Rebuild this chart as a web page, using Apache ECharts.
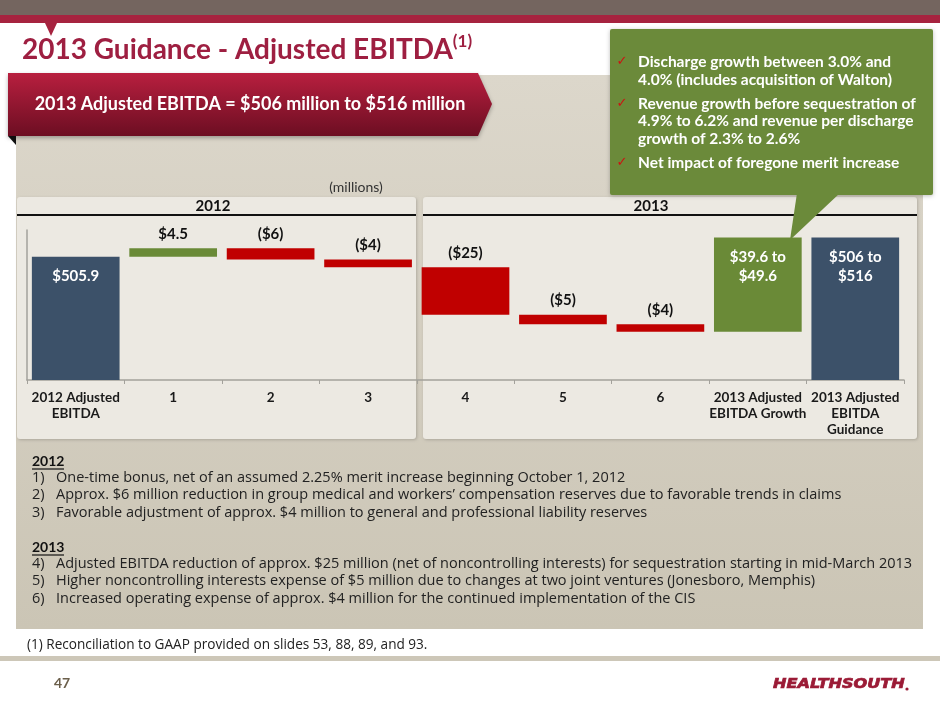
<!DOCTYPE html>
<html>
<head>
<meta charset="utf-8">
<script src="https://cdn.jsdelivr.net/npm/echarts@6/dist/echarts.min.js"></script>
<style>
  html, body { margin: 0; padding: 0; background: #ffffff; }
  #slide { width: 940px; height: 705px; }
</style>
</head>
<body>
<div id="slide"></div>
<script>
// chart data (millions)
const categories = ['2012 Adjusted\nEBITDA', '1', '2', '3', '4', '5', '6',
  '2013 Adjusted\nEBITDA Growth', '2013 Adjusted\nEBITDA\nGuidance'];
const startValue = 505.9;
const changes = [4.5, -6, -4, -25, -5, -4];
const growthRange = [39.6, 49.6];
const guidanceRange = [506, 516];
const barLabels = ['$505.9', '$4.5', '($6)', '($4)', '($25)', '($5)', '($4)',
  '$39.6 to\n$49.6', '$506 to\n$516'];

const calloutLines = [
  ['Discharge growth between 3.0% and', '4.0% (includes acquisition of Walton)'],
  ['Revenue growth before sequestration of', '4.9% to 6.2% and revenue per discharge', 'growth of 2.3% to 2.6%'],
  ['Net impact of foregone merit increase']
];
const notes2012 = [
  'One-time bonus, net of an assumed 2.25% merit increase beginning October 1, 2012',
  'Approx. $6 million reduction in group medical and workers\u2019 compensation reserves due to favorable trends in claims',
  'Favorable adjustment of approx. $4 million to general and professional liability reserves'
];
const notes2013 = [
  'Adjusted EBITDA reduction of approx. $25 million (net of noncontrolling interests) for sequestration starting in mid-March 2013',
  'Higher noncontrolling interests expense of $5 million due to changes at two joint ventures (Jonesboro, Memphis)',
  'Increased operating expense of approx. $4 million for the continued implementation of the CIS'
];

const FONT = 'Lato, "DejaVu Sans", sans-serif';
const BODY = '"Open Sans", "DejaVu Sans", sans-serif';
const BLUE = '#3c5169', GREEN = '#6a8a37', RED = '#c00000';

// build the waterfall: invisible base + visible part
const baseData = [0];
const barData = [{ value: startValue, itemStyle: { color: BLUE } }];
let running = startValue;
changes.forEach(c => {
  if (c >= 0) {
    baseData.push(running);
    running += c;
  } else {
    running += c;
    baseData.push(running);
  }
  barData.push({ value: Math.abs(c), itemStyle: { color: c >= 0 ? GREEN : RED } });
});
baseData.push(running);
barData.push({ value: growthRange[1], itemStyle: { color: GREEN } });
baseData.push(0);
barData.push({ value: guidanceRange[1], itemStyle: { color: BLUE } });

const insideIdx = [0, 7, 8];

// slide decoration
const g = [];
g.push({ type: 'rect', z: -10, shape: { x: 0, y: 0, width: 940, height: 15 }, style: { fill: '#74655f' } });
g.push({ type: 'rect', z: -10, shape: { x: 0, y: 15, width: 940, height: 8 }, style: { fill: '#a6233f' } });
g.push({ type: 'polygon', z: -9, shape: { points: [[45, 23], [57, 23], [51, 36]] }, style: { fill: '#a6233f' } });
g.push({
  type: 'text', z: -9, x: 22, y: 50,
  style: {
    text: '{m|2013 Guidance - Adjusted EBITDA}{s|(1)}',
    textVerticalAlign: 'middle',
    rich: {
      m: { font: 'bold 28px ' + FONT, fill: '#9e1f41', lineHeight: 34 },
      s: { font: 'bold 17px ' + FONT, fill: '#9e1f41', lineHeight: 17, verticalAlign: 'top' }
    }
  }
});
// tan background
g.push({
  type: 'rect', z: -10, shape: { x: 16, y: 75, width: 907, height: 554 },
  style: { fill: new echarts.graphic.LinearGradient(0, 0, 0, 1, [
    { offset: 0, color: '#dcd7cb' }, { offset: 1, color: '#cbc5b5' }]) }
});
// red banner
g.push({ type: 'polygon', z: -8, shape: { points: [[8, 136], [16, 136], [16, 145]] }, style: { fill: '#111' } });
g.push({
  type: 'polygon', z: -8,
  shape: { points: [[8, 73], [478, 73], [492, 104], [478, 136], [8, 136]] },
  style: {
    fill: new echarts.graphic.LinearGradient(0, 0, 0, 1, [
      { offset: 0, color: '#b81f3f' }, { offset: 1, color: '#6c0e22' }]),
    shadowBlur: 4, shadowColor: 'rgba(0,0,0,0.3)', shadowOffsetY: 2
  }
});
g.push({
  type: 'text', z: -7, x: 250, y: 104,
  style: { text: '2013 Adjusted EBITDA = $506 million to $516 million', font: 'bold 18px ' + FONT,
    fill: '#ffffff', textAlign: 'center', textVerticalAlign: 'middle' }
});
g.push({
  type: 'text', z: -7, x: 356, y: 187,
  style: { text: '(millions)', font: '14px ' + FONT, fill: '#333333', textAlign: 'center', textVerticalAlign: 'middle' }
});
// chart panels
[[17, 197, 399, 242, 213, '2012'], [423, 197, 494, 242, 651, '2013']].forEach(p => {
  g.push({
    type: 'rect', z: -6, shape: { x: p[0], y: p[1], width: p[2], height: p[3], r: 3 },
    style: { fill: '#ece9e2', shadowBlur: 3, shadowColor: 'rgba(0,0,0,0.18)', shadowOffsetX: 1, shadowOffsetY: 1 }
  });
  g.push({
    type: 'text', z: -5, x: p[4], y: 206,
    style: { text: p[5], font: 'bold 15px ' + FONT, fill: '#111', textAlign: 'center', textVerticalAlign: 'middle' }
  });
  g.push({
    type: 'line', z: -5, shape: { x1: p[0], y1: 215, x2: p[0] + p[2], y2: 215 },
    style: { stroke: '#111', lineWidth: 2 }
  });
});
// green callout
g.push({
  type: 'rect', z: 20, shape: { x: 610, y: 29, width: 323, height: 166, r: 2 },
  style: { fill: '#6b8a3a', shadowBlur: 4, shadowColor: 'rgba(0,0,0,0.25)', shadowOffsetY: 1 }
});
g.push({ type: 'polygon', z: 20, shape: { points: [[797, 193], [840, 193], [790, 240]] }, style: { fill: '#6b8a3a' } });
let cy = 62;
calloutLines.forEach(block => {
  g.push({ type: 'text', z: 21, x: 622, y: cy,
    style: { text: '\u2713', font: '13px "DejaVu Sans"', fill: '#d01010', textAlign: 'center', textVerticalAlign: 'middle' } });
  block.forEach((line, i) => {
    g.push({ type: 'text', z: 21, x: 638, y: cy + i * 17.5,
      style: { text: line, font: 'bold 15.5px ' + FONT, fill: '#ffffff', textVerticalAlign: 'middle' } });
  });
  cy += block.length * 17.5 + 6.5;
});
// footnotes
function noteBlock(title, lines, y0, n0) {
  g.push({ type: 'text', z: -5, x: 32, y: y0,
    style: { text: title, font: 'bold 14px ' + FONT, fill: '#111', textVerticalAlign: 'middle' } });
  g.push({ type: 'line', z: -5, shape: { x1: 32, y1: y0 + 8, x2: 64, y2: y0 + 8 }, style: { stroke: '#111', lineWidth: 1.2 } });
  lines.forEach((t, i) => {
    const y = y0 + 17 + i * 17.3;
    g.push({ type: 'text', z: -5, x: 32, y: y,
      style: { text: (n0 + i) + ')', font: '14.5px ' + BODY, fill: '#222', textVerticalAlign: 'middle' } });
    g.push({ type: 'text', z: -5, x: 56, y: y,
      style: { text: t, font: '14.5px ' + BODY, fill: '#222', textVerticalAlign: 'middle' } });
  });
}
noteBlock('2012', notes2012, 461, 1);
noteBlock('2013', notes2013, 547, 4);
g.push({ type: 'text', z: -5, x: 27, y: 645,
  style: { text: '(1) Reconciliation to GAAP provided on slides 53, 88, 89, and 93.', font: '13.6px ' + BODY,
    fill: '#222', textVerticalAlign: 'middle' } });
g.push({ type: 'rect', z: -10, shape: { x: 0, y: 656, width: 940, height: 5 }, style: { fill: '#cdc7b8' } });
g.push({ type: 'text', z: -5, x: 54, y: 683,
  style: { text: '47', font: 'bold 14px ' + FONT, fill: '#6b5f4b', textVerticalAlign: 'middle' } });
g.push({ type: 'text', z: -5, x: 773, y: 684, scaleX: 1.15,
  style: { text: 'HEALTHSOUTH', font: 'italic bold 14px "DejaVu Sans"', fill: '#9b1b36',
    stroke: '#9b1b36', lineWidth: 0.7, textVerticalAlign: 'middle' } });
g.push({ type: 'circle', z: -5, shape: { cx: 907, cy: 689, r: 1.6 }, style: { fill: '#9b1b36' } });

const chart = echarts.init(document.getElementById('slide'));
chart.setOption({
  animation: false,
  backgroundColor: '#ffffff',
  graphic: g,
  grid: { left: 27, right: 36, top: 230, bottom: 325, outerBoundsMode: 'none' },
  xAxis: {
    type: 'category',
    data: categories,
    axisLine: { lineStyle: { color: '#a3a19b', width: 1.5 } },
    axisTick: { show: true, length: 4, lineStyle: { color: '#a3a19b' } },
    axisLabel: { interval: 0, margin: 10, color: '#1a1a1a', fontFamily: FONT, fontWeight: 'bold', fontSize: 13.5, lineHeight: 16 }
  },
  yAxis: {
    type: 'value',
    min: 441,
    max: 520,
    axisLine: { show: true, lineStyle: { color: '#a3a19b', width: 1.5 } },
    axisTick: { show: false },
    axisLabel: { show: false },
    splitLine: { show: false }
  },
  series: [
    {
      type: 'bar', stack: 'wf', data: baseData, barCategoryGap: '10%',
      itemStyle: { color: 'transparent' }, silent: true
    },
    {
      type: 'bar', stack: 'wf', barCategoryGap: '10%',
      data: barData.map((d, i) => Object.assign({}, d, {
        label: insideIdx.includes(i)
          ? { position: 'insideTop', distance: 10, color: '#ffffff' }
          : { position: 'top', distance: 5, color: '#111111' }
      })),
      label: {
        show: true,
        fontFamily: FONT, fontWeight: 'bold', fontSize: 15, lineHeight: 19,
        formatter: p => barLabels[p.dataIndex]
      }
    }
  ]
});
</script>
</body>
</html>
